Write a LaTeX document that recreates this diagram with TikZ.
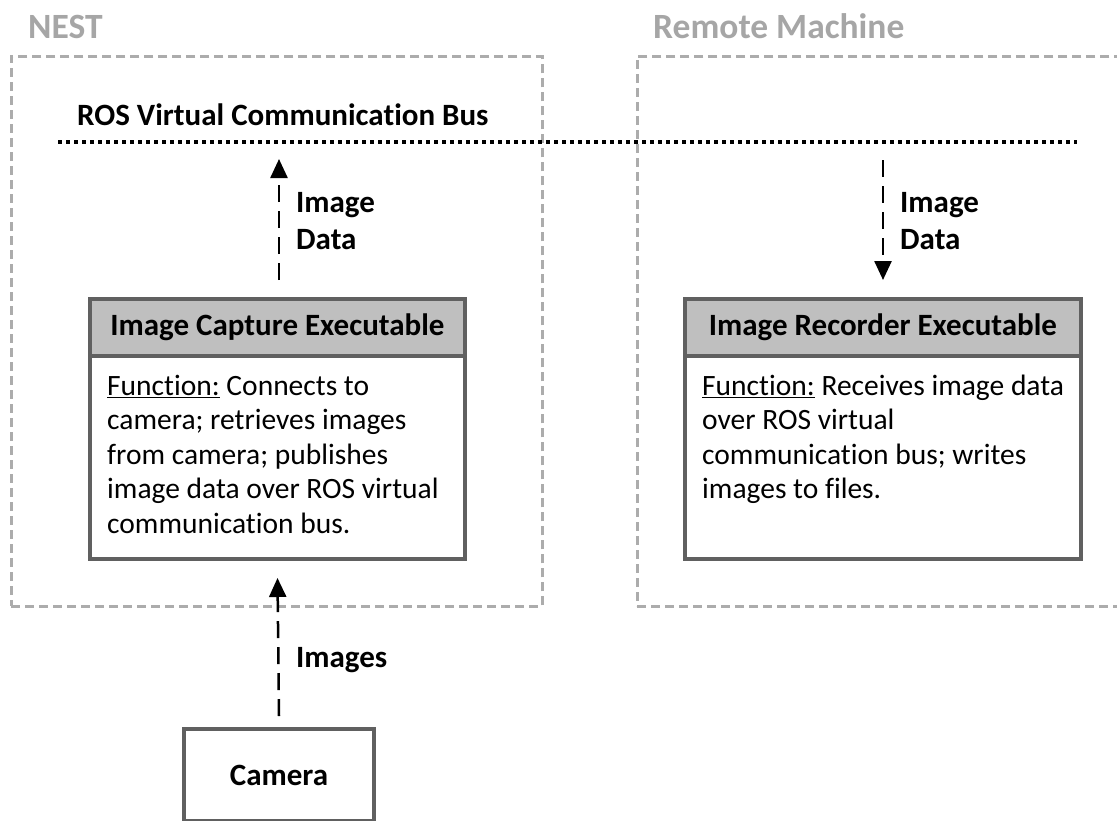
\documentclass[tikz,border=0pt]{standalone}
\usepackage{fontspec}
\setmainfont{Carlito}[Ligatures=NoCommon]
\usetikzlibrary{arrows.meta}
\definecolor{titlegray}{RGB}{166,166,166}
\definecolor{dashgray}{RGB}{172,172,172}
\definecolor{bordergray}{RGB}{96,96,96}
\definecolor{hdrgray}{RGB}{191,191,191}
\begin{document}
\begin{tikzpicture}[x=1pt,y=-1pt,
  title/.style={font=\fontsize{35.5}{42}\selectfont\bfseries, text=titlegray, anchor=base west, inner sep=0pt},
  group/.style={draw=dashgray, line width=2.5pt, dash pattern=on 9pt off 5pt, rectangle, anchor=north west, inner sep=0pt},
  hdr/.style={draw=bordergray, line width=4pt, fill=hdrgray, rectangle, minimum width=375pt, minimum height=57pt, anchor=north west, inner sep=0pt, font=\fontsize{31}{37}\selectfont\bfseries},
  bodybox/.style={draw=bordergray, line width=4pt, rectangle, minimum width=375pt, minimum height=203pt, anchor=north west, inner sep=0pt},
  bodytext/.style={font=\fontsize{29.5}{34.5}\selectfont, anchor=north west, inner sep=0pt, align=left},
  lbl/.style={font=\fontsize{31}{37}\selectfont\bfseries, anchor=north west, inner sep=0pt, align=left},
  flow/.style={line width=2.5pt, dash pattern=on 17pt off 9pt, -{Triangle[length=19pt,width=17pt]}},
  bus/.style={line width=4pt, dash pattern=on 4pt off 4pt}
]
\useasboundingbox (0,0) rectangle (1117,820);

% groups
\node[title] (nesttitle) at (28,38) {NEST};
\node[title] (remotetitle) at (653,38) {Remote Machine};
\node[group, minimum width=531pt, minimum height=550pt] (nestbox) at (10,55) {};
\node[group, minimum width=500pt, minimum height=550pt] (remotebox) at (636,55) {};

% bus
\node[font=\fontsize{31}{37}\selectfont\bfseries, anchor=base west, inner sep=0pt] (bustext) at (77,125) {ROS Virtual Communication Bus};
\coordinate (busL) at (58,142);
\coordinate (busR) at (1077,142);
\draw[bus] (busL) -- (busR);

% capture executable
\node[hdr] (caphdr) at (88,297) {Image Capture Executable};
\node[bodybox] (capbody) at (88,354) {};
\node[bodytext] (captext) at (107,371) {\strut\underline{Function:} Connects to\\camera; retrieves images\\from camera; publishes\\image data over ROS virtual\\communication bus.};

% recorder executable
\node[hdr, minimum width=396pt] (rechdr) at (683,297) {Image Recorder Executable};
\node[bodybox, minimum width=396pt] (recbody) at (683,354) {};
\node[bodytext] (rectext) at (702,371) {\strut\underline{Function:} Receives image data\\over ROS virtual\\communication bus; writes\\images to files.};

% camera
\node[draw=bordergray, line width=4pt, rectangle, minimum width=190pt, minimum height=92pt, anchor=north west, inner sep=0pt, font=\fontsize{31}{37}\selectfont\bfseries] (camera) at (182,727) {Camera};

% arrows
\draw[flow] ([xshift=1.5pt,yshift=17pt]caphdr.north) -- ([xshift=1.5pt,yshift=-17pt]caphdr.north |- busL);
\node[lbl] (lbl1) at (296,186) {\strut Image\\Data};
\draw[flow] ([yshift=-18pt]rechdr.north |- busR) -- ([yshift=17pt]rechdr.north);
\node[lbl] (lbl2) at (900,186) {\strut Image\\Data};
\draw[flow] ([yshift=11pt]camera.north) -- ([yshift=-17pt]capbody.south);
\node[lbl, anchor=base west] (lbl3) at (296,667) {Images};
\end{tikzpicture}
\end{document}
